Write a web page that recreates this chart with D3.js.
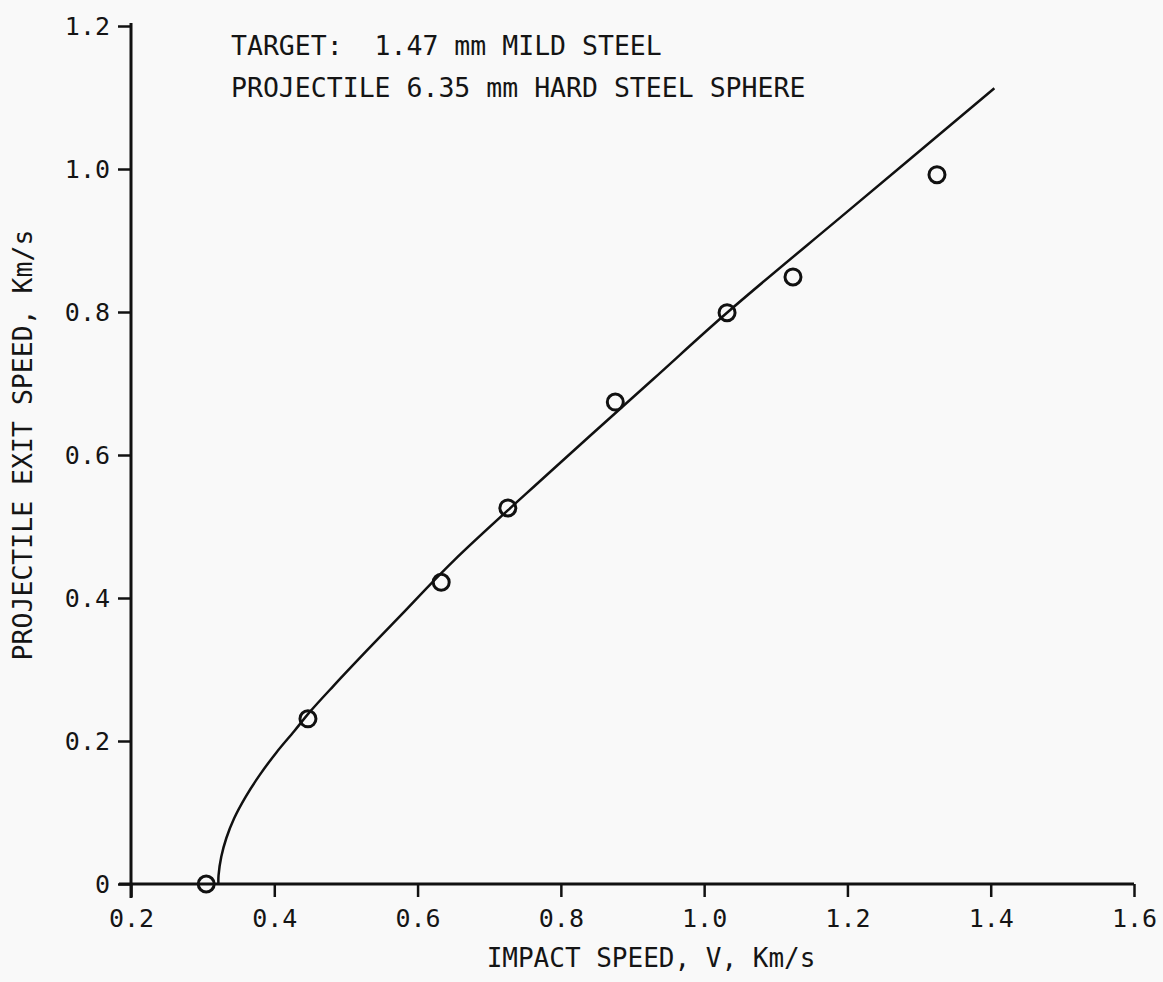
<!DOCTYPE html>
<html>
<head>
<meta charset="utf-8">
<script src="https://cdn.jsdelivr.net/npm/d3@7"></script>
<style>
  html, body { margin: 0; padding: 0; background: #f9f9f9; }
  svg { display: block; }
  text { font-family: "DejaVu Sans Mono", "Liberation Mono", monospace; fill: #151515; }
</style>
</head>
<body>
<svg id="chart" width="1163" height="982"></svg>
<script>
// ---- data ----
const impactSpeed = [0.305, 0.447, 0.633, 0.726, 0.876, 1.032, 1.124, 1.325];   // Km/s
const exitSpeed   = [0.000, 0.231, 0.422, 0.526, 0.674, 0.799, 0.849, 0.992];   // Km/s

// fitted curve
const curveImpact = [0.322, 0.3222, 0.3260, 0.3330, 0.3440, 0.3600, 0.3800, 0.4030, 0.4280, 0.4499, 0.4824, 0.5290, 0.5755, 0.6499, 0.7849, 0.9291, 1.0315, 1.2036, 1.4051];
const curveExit   = [0.000, 0.0120, 0.0380, 0.0640, 0.0920, 0.1220, 0.1530, 0.1840, 0.2140, 0.2410, 0.2768, 0.3263, 0.3747, 0.4517, 0.5762, 0.7063, 0.7986, 0.9435, 1.1130];

const xTicks = [0.2, 0.4, 0.6, 0.8, 1.0, 1.2, 1.4, 1.6];
const yTicks = [0, 0.2, 0.4, 0.6, 0.8, 1.0, 1.2];
const xTickLabels = ["0.2", "0.4", "0.6", "0.8", "1.0", "1.2", "1.4", "1.6"];
const yTickLabels = ["0", "0.2", "0.4", "0.6", "0.8", "1.0", "1.2"];

const titleLines = ["TARGET:\u00a0\u00a01.47 mm MILD STEEL", "PROJECTILE 6.35 mm HARD STEEL SPHERE"];
const xTitle = "IMPACT SPEED, V, Km/s";
const yTitle = "PROJECTILE EXIT SPEED, Km/s";

// ---- layout ----
const svg = d3.select("#chart");
const x = d3.scaleLinear().domain([0.2, 1.6]).range([131, 1134]);
const y = d3.scaleLinear().domain([0, 1.2]).range([884, 26]);

const ink = "#111";

// x axis
const xAxis = d3.axisBottom(x)
  .tickValues(xTicks)
  .tickFormat((d, i) => xTickLabels[i])
  .tickSize(13)
  .tickPadding(12)
  .tickSizeOuter(0);
const gx = svg.append("g").attr("transform", `translate(0,${y(0)})`).call(xAxis);
gx.select(".domain").remove();
gx.selectAll(".tick line").attr("stroke", ink).attr("stroke-width", 2.5);
gx.selectAll(".tick text").attr("font-size", 25).attr("font-family", "DejaVu Sans Mono").attr("fill", "#1a1a1a");
svg.append("line")
  .attr("x1", x(0.2) - 12).attr("x2", x(1.6))
  .attr("y1", y(0)).attr("y2", y(0))
  .attr("stroke", ink).attr("stroke-width", 3);

// y axis
const yAxis = d3.axisLeft(y)
  .tickValues(yTicks)
  .tickFormat((d, i) => yTickLabels[i])
  .tickSize(13)
  .tickPadding(8)
  .tickSizeOuter(0);
const gy = svg.append("g").attr("transform", `translate(${x(0.2)},0)`).call(yAxis);
gy.select(".domain").remove();
gy.selectAll(".tick line").attr("stroke", ink).attr("stroke-width", 2.5);
gy.selectAll(".tick text").attr("font-size", 25).attr("font-family", "DejaVu Sans Mono").attr("fill", "#1a1a1a");
svg.append("line")
  .attr("x1", x(0.2)).attr("x2", x(0.2))
  .attr("y1", y(1.2) - 3).attr("y2", y(0) + 14)
  .attr("stroke", ink).attr("stroke-width", 3);

// fitted curve
const curveData = curveImpact.map((v, i) => [v, curveExit[i]]);
svg.append("path")
  .datum(curveData)
  .attr("fill", "none")
  .attr("stroke", ink)
  .attr("stroke-width", 2.5)
  .attr("stroke-linejoin", "round")
  .attr("d", d3.line().x(d => x(d[0])).y(d => y(d[1])).curve(d3.curveCatmullRom.alpha(0.5)));

// data points
svg.append("g").selectAll("circle")
  .data(impactSpeed.map((v, i) => [v, exitSpeed[i]]))
  .join("circle")
  .attr("cx", d => x(d[0]))
  .attr("cy", d => y(d[1]))
  .attr("r", 8)
  .attr("fill", "none")
  .attr("stroke", ink)
  .attr("stroke-width", 3);

// title block
svg.append("g").selectAll("text")
  .data(titleLines)
  .join("text")
  .attr("x", 231)
  .attr("y", (d, i) => 55 + i * 42)
  .attr("font-size", 26.5)
  .text(d => d);

// axis titles
svg.append("text")
  .attr("x", 651)
  .attr("y", 967)
  .attr("text-anchor", "middle")
  .attr("font-size", 26)
  .text(xTitle);

svg.append("text")
  .attr("transform", `translate(32,${445}) rotate(-90)`)
  .attr("text-anchor", "middle")
  .attr("font-size", 26.5)
  .text(yTitle);
</script>
</body>
</html>
